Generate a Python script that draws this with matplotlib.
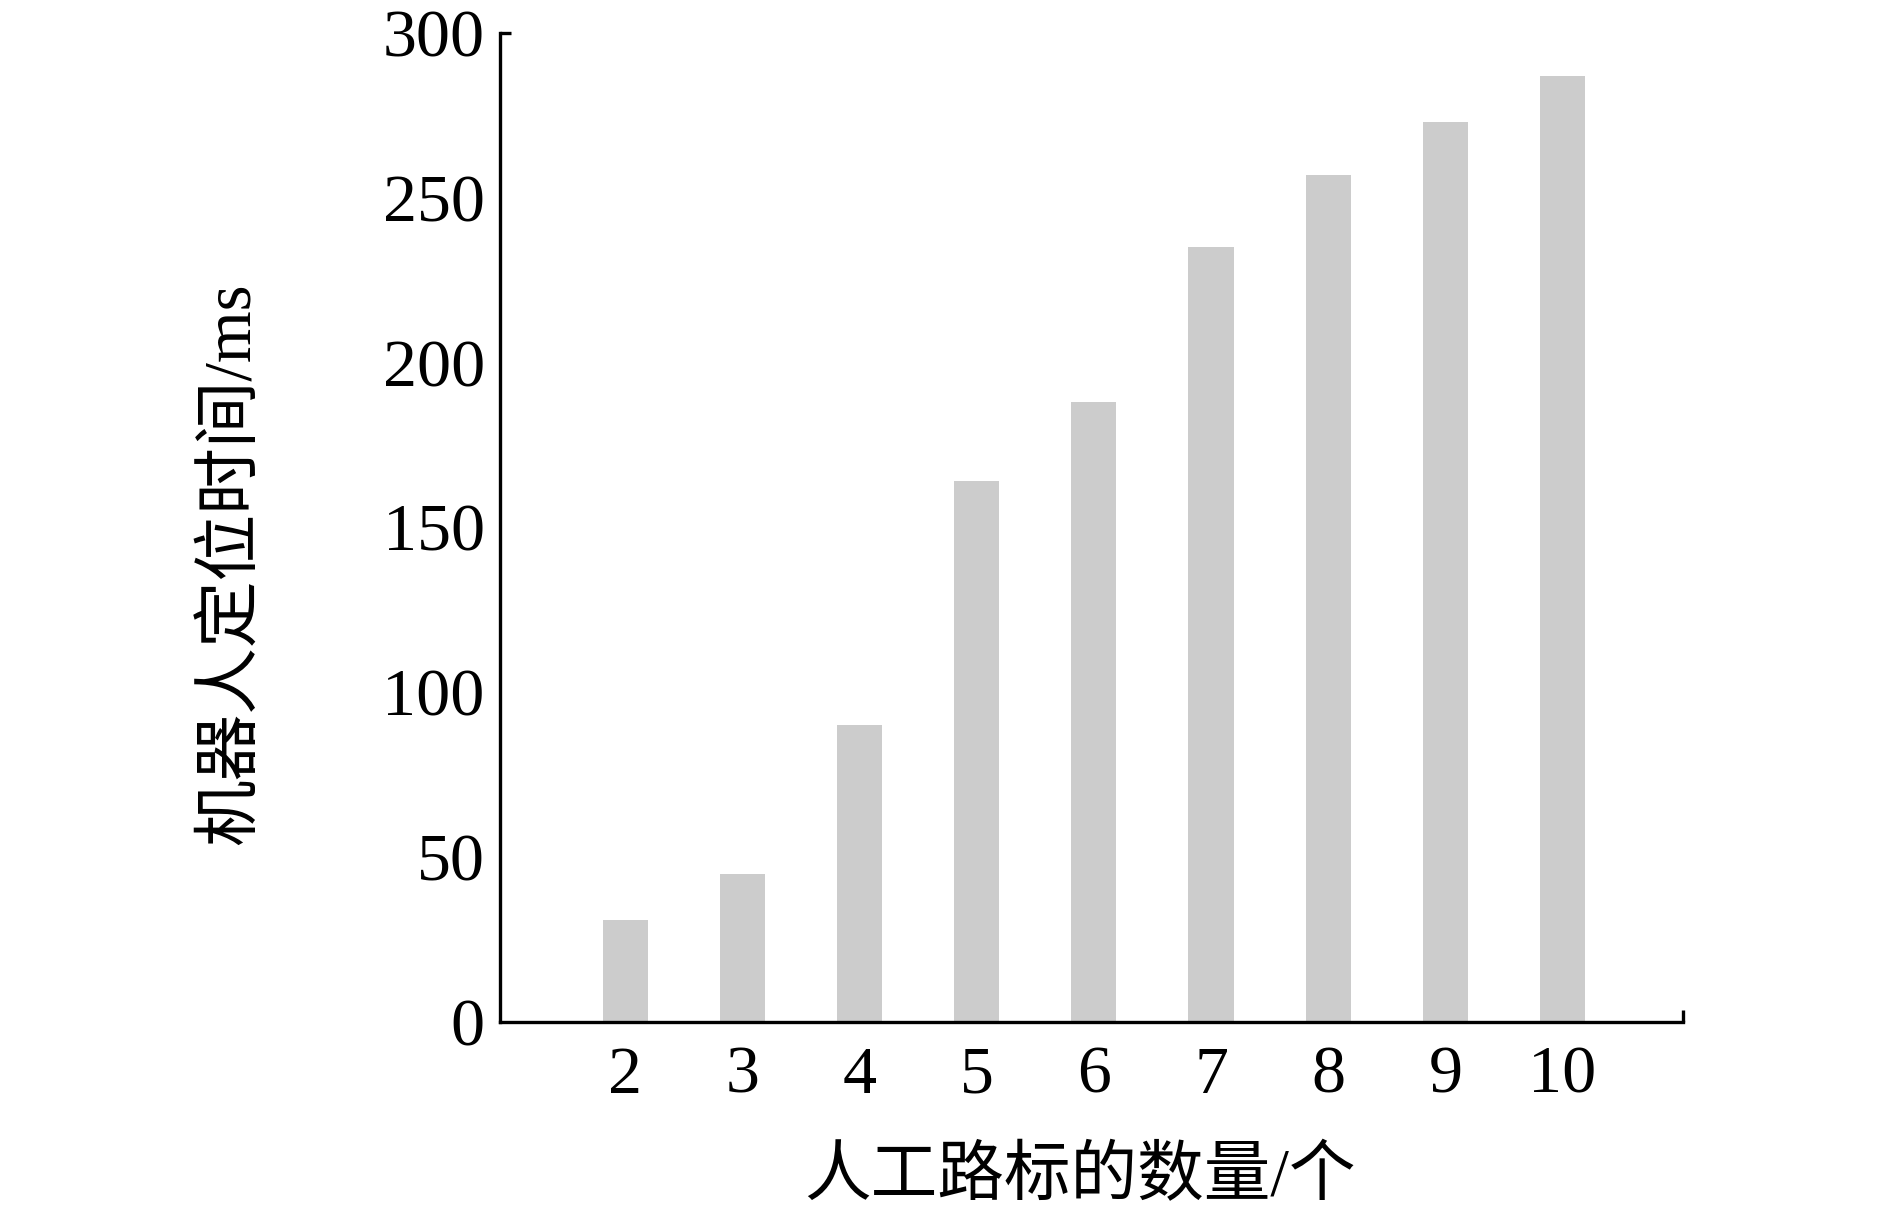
import numpy as np
import matplotlib
matplotlib.use('Agg')
import matplotlib.pyplot as plt

# Data
landmarks = [2, 3, 4, 5, 6, 7, 8, 9, 10]
times_ms = [31, 45, 90, 164, 188, 235, 257, 273, 287]
y_ticks = [0, 50, 100, 150, 200, 250, 300]

x_title = '人工路标的数量/个'
y_title = '机器人定位时间/ms'

plt.rcParams['font.family'] = ['Liberation Serif', 'Noto Sans CJK SC']

fig = plt.figure(figsize=(18.9, 12.28), dpi=100)
ax = fig.add_axes([0.2646, 0.1678, 0.6259, 0.8053])

ax.bar(landmarks, times_ms, width=0.385, color='#cccccc', zorder=1)

ax.set_xlim(0.93, 11.03)
ax.set_ylim(0, 300)
ax.set_xticks(landmarks)
ax.set_yticks(y_ticks)
ax.tick_params(axis='x', length=0, pad=17, labelsize=49)
ax.tick_params(axis='y', length=0, pad=11, labelsize=49)

for side in ['top', 'right']:
    ax.spines[side].set_visible(False)
for side in ['left', 'bottom']:
    ax.spines[side].set_linewidth(2.4)
    ax.spines[side].set_zorder(3)

# small end stubs of the axis lines
ax.plot([0, 0.009], [1, 1], transform=ax.transAxes, color='black',
        lw=2.4, clip_on=False, solid_capstyle='butt')
ax.plot([1, 1], [0, 0.012], transform=ax.transAxes, color='black',
        lw=2.4, clip_on=False, solid_capstyle='butt')

ax.set_xlabel(x_title, fontsize=48)
ax.set_ylabel(y_title, fontsize=48)
ax.xaxis.set_label_coords(0.49, -0.158)
ax.yaxis.set_label_coords(-0.2257, 0.463)
ax.xaxis.label.set_va('center')
ax.yaxis.label.set_va('center')

fig.savefig('out.png', dpi=100, facecolor='white')
